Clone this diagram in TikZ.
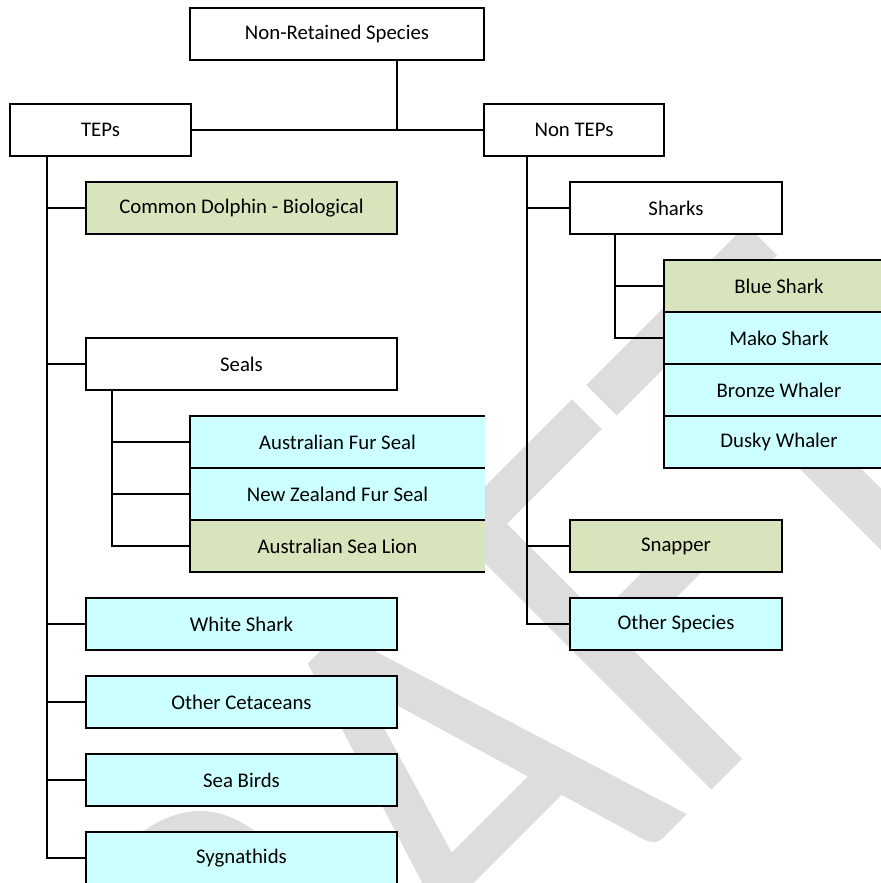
\documentclass[tikz,border=0pt]{standalone}
\usepackage{fontspec}
\setmainfont{Carlito}
\definecolor{assessgreen}{HTML}{D8E4BC}
\definecolor{leafcyan}{HTML}{CCFFFF}
\definecolor{draftgray}{HTML}{DDDDDD}

\begin{document}
\begin{tikzpicture}[x=0.75pt,y=-0.75pt,
    box/.style={draw,line width=1pt,inner sep=0pt,outer sep=0pt,minimum height=39pt,
        font=\fontsize{15.6}{19}\selectfont},
    plainbox/.style={box,fill=white},
    assessbox/.style={box,fill=assessgreen},
    leafbox/.style={box,fill=leafcyan},
    link/.style={line width=1pt}]
    \useasboundingbox (0,0) rectangle (881,883);
    \begin{scope}
        \clip (0,0) rectangle (881,883);
        % watermark behind everything
        \begin{scope}[shift={(87.7,1414.2)},rotate=45,yscale=1.194]
            \node[transform shape,anchor=base west,inner sep=0pt,text=draftgray,
                font=\fontsize{366.75}{370}\selectfont] (draft) at (0,0) {DRAFT};
        \end{scope}

        % top level
        \node[plainbox,minimum width=220.5pt] (nrs) at (337,34) {Non-Retained Species};
        \node[plainbox,minimum width=135.75pt] (teps) at (100.5,130) {TEPs};
        \node[plainbox,minimum width=135pt] (nonteps) at (574,130) {Non TEPs};

        % TEPs branch
        \node[assessbox,minimum width=233.25pt] (dolphin) at (241.5,208) {Common Dolphin - Biological};
        \node[plainbox,minimum width=233.25pt] (seals) at (241.5,364) {Seals};
        \node[box,draw=none,fill=leafcyan,minimum width=221.25pt] (afs) at (337.5,442) {Australian Fur Seal};
        \node[box,draw=none,fill=leafcyan,minimum width=221.25pt] (nzfs) at (337.5,494) {New Zealand Fur Seal};
        \node[box,draw=none,fill=assessgreen,minimum width=221.25pt] (asl) at (337.5,546) {Australian Sea Lion};
        \foreach \n in {afs,nzfs,asl}
            \draw[link] (\n.north east) -- (\n.north west) -- (\n.south west) -- (\n.south east);
        \foreach \n/\t/\y in {whiteshark/White Shark/624,cetaceans/Other Cetaceans/702,
                seabirds/Sea Birds/780,sygnathids/Sygnathids/858}
            \node[leafbox,minimum width=233.25pt] (\n) at (241.5,\y) {\t};

        % Non TEPs branch
        \node[plainbox,minimum width=159pt] (sharks) at (676,208) {Sharks};
        \node[assessbox,minimum width=172.5pt] (blue) at (779,286) {Blue Shark};
        \node[leafbox,minimum width=172.5pt] (mako) at (779,338) {Mako Shark};
        \node[leafbox,minimum width=172.5pt] (bronze) at (779,390) {Bronze Whaler};
        \node[leafbox,minimum width=172.5pt] (dusky) at (779,442) {Dusky Whaler};
        \node[assessbox,minimum width=159pt] (snapper) at (676,546) {Snapper};
        \node[leafbox,minimum width=159pt] (other) at (676,624) {Other Species};

        % connectors
        \coordinate (join) at (397,130);
        \draw[link] (nrs.south -| join) -- (join);
        \draw[link] (teps.east) -- (nonteps.west);

        \coordinate (tspine) at (47,156);
        \draw[link] (tspine) |- (sygnathids.west);
        \foreach \n in {dolphin,seals,whiteshark,cetaceans,seabirds}
            \draw[link] (\n.west) -- (\n.west -| tspine);

        \coordinate (sspine) at (112,390);
        \draw[link] (sspine) |- (asl.west);
        \foreach \n in {afs,nzfs}
            \draw[link] (\n.west) -- (\n.west -| sspine);

        \coordinate (nspine) at (527,156);
        \draw[link] (nspine) |- (other.west);
        \foreach \n in {sharks,snapper}
            \draw[link] (\n.west) -- (\n.west -| nspine);

        \coordinate (shspine) at (615,234);
        \draw[link] (shspine) |- (mako.west);
        \draw[link] (blue.west) -- (blue.west -| shspine);
    \end{scope}
\end{tikzpicture}
\end{document}
